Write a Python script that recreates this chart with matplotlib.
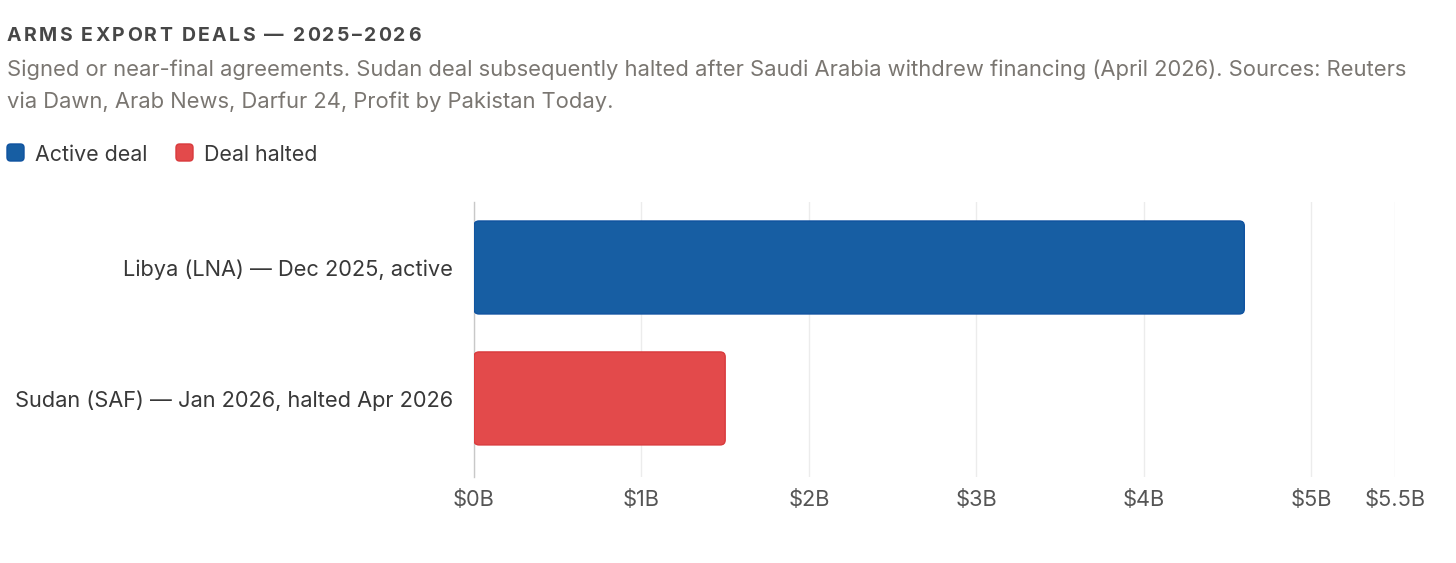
import matplotlib
matplotlib.use("Agg")
import matplotlib.pyplot as plt
from matplotlib.patches import FancyBboxPatch

# chart data
deals = ["Libya (LNA) — Dec 2025, active", "Sudan (SAF) — Jan 2026, halted Apr 2026"]
values_bn = [4.6, 1.5]
deal_status = ["Active deal", "Deal halted"]
tick_values = [0, 1, 2, 3, 4, 5, 5.5]
tick_labels = [r"\$0B", r"\$1B", r"\$2B", r"\$3B", r"\$4B", r"\$5B", r"\$5.5B"]

title = "ARMS EXPORT DEALS — 2025–2026"
subtitle_lines = [
    "Signed or near-final agreements. Sudan deal subsequently halted after Saudi Arabia withdrew financing (April 2026). Sources: Reuters",
    "via Dawn, Arab News, Darfur 24, Profit by Pakistan Today.",
]

fill_colors = {"Active deal": "#175ea3", "Deal halted": "#e34a4b"}
edge_colors = {"Active deal": "#0f52a0", "Deal halted": "#d93a3c"}

W, H = 1456, 563
plt.rcParams["font.family"] = ["Inter", "DejaVu Sans"]

fig = plt.figure(figsize=(W / 100, H / 100), dpi=100)
fig.patch.set_facecolor("white")


def fy(px):
    return 1 - px / H


# letter-spaced title, one glyph at a time
def spaced_text(x_px, y_px, text, spacing_px, **kw):
    renderer = fig.canvas.get_renderer()

    def width(s):
        t = fig.text(0, 0, s, **kw)
        w = t.get_window_extent(renderer).width
        t.remove()
        return w

    for i, ch in enumerate(text):
        if ch == " ":
            continue
        left = width(text[:i + 1]) - width(ch) + i * spacing_px
        fig.text((x_px + left) / W, fy(y_px), ch, va="baseline", ha="left", **kw)


spaced_text(7, 41, title, 2.3, fontsize=14, fontweight="bold", color="#474747")

for line, base in zip(subtitle_lines, [76, 108]):
    fig.text(7 / W, fy(base), line, fontsize=15.8, color="#7a7671", va="baseline")

# legend drawn by hand
legend_x = [7, 176]
for status, lx in zip(deal_status, legend_x):
    sq = FancyBboxPatch((lx / W, fy(161)), 17 / W, 17 / H,
                        boxstyle="round,pad=0,rounding_size=0.0025",
                        mutation_aspect=W / H, transform=fig.transFigure,
                        fc=fill_colors[status], ec=edge_colors[status], lw=1)
    fig.patches.append(sq)
    fig.text((lx + 28) / W, fy(161), status, fontsize=15.4, color="#3a3a3a", va="baseline")

# main axes
ax = fig.add_axes([474 / W, fy(477), 921 / W, 275 / H])
ax.set_xlim(0, 5.5)
ax.set_ylim(1.6, -0.5)

ypos = list(range(len(deals)))
bars = ax.barh(ypos, values_bn, height=0.71)

px_x = 921 / 5.5
px_y = 275 / 2.1
r_px = 5
for bar, status in zip(bars, deal_status):
    x0, y0 = bar.get_xy()
    bar.set_visible(False)
    rp = FancyBboxPatch((x0, y0), bar.get_width(), bar.get_height(),
                        boxstyle=f"round,pad=0,rounding_size={r_px / px_x}",
                        mutation_aspect=px_x / px_y,
                        fc=fill_colors[status], ec=edge_colors[status], lw=1, zorder=3)
    ax.add_patch(rp)

ax.set_xticks(tick_values)
ax.set_xticklabels(tick_labels)
ax.set_yticks(ypos)
ax.set_yticklabels(deals)
ax.tick_params(axis="x", length=0, pad=9, labelsize=15.7, labelcolor="#555555")
ax.tick_params(axis="y", length=0, pad=15, labelsize=15.7, labelcolor="#383838")
ax.grid(axis="x", color="#ececec", lw=1)
ax.set_axisbelow(True)
for side in ["top", "right", "bottom"]:
    ax.spines[side].set_visible(False)
ax.spines["left"].set_color("#c8c8c8")
ax.spines["left"].set_linewidth(1)

fig.savefig("out.png", dpi=100, facecolor="white")
